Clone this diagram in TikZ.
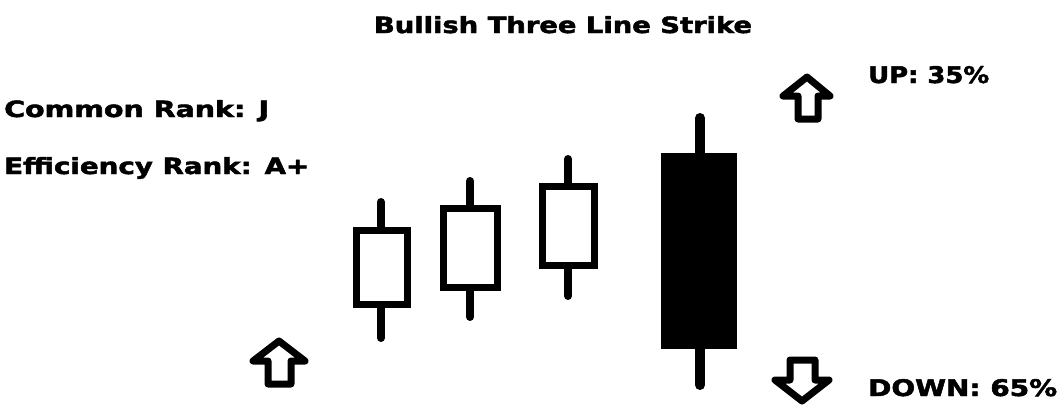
\documentclass[tikz,border=0pt]{standalone}
\usepackage{fontspec}
\setmainfont{DejaVu Sans}
\newfontfamily\heavyfont{DejaVu Sans Bold}[FakeBold=2]
\usepackage{graphicx}
\begin{document}
\begin{tikzpicture}[x=1pt,y=-1pt,
  lbl/.style={inner sep=0pt,anchor=base west,font=\heavyfont},
  hollow/.style={draw=black,line width=7pt,fill=white,inner sep=0pt},
  solid/.style={draw=none,fill=black,inner sep=0pt},
  wick/.style={line width=8pt,line cap=round},
  arrowshape/.style={line width=7pt,line join=round}]
\useasboundingbox (0,0) rectangle (1064,408);
% texts
\node[lbl,anchor=base] (title) at (563,33) {\resizebox{378pt}{17pt}{Bullish Three Line Strike}};
\node[lbl] (common) at (4,117) {\resizebox{265pt}{17pt}{Common Rank: J}};
\node[lbl] (eff) at (4,174) {\resizebox{305pt}{17pt}{Efficiency Rank: A+}};
\node[lbl] (up) at (868,83) {\resizebox{121pt}{17pt}{UP: 35\%}};
\node[lbl] (down) at (868,396) {\resizebox{189pt}{17pt}{DOWN: 65\%}};
% candle 1
\coordinate (w1t) at (381,202); \coordinate (w1b) at (381,338);
\draw[wick] (w1t) -- (w1b);
\node[hollow,minimum width=51pt,minimum height=74pt] (c1) at (382,267.5) {};
% candle 2
\coordinate (w2t) at (470,181); \coordinate (w2b) at (470,317);
\draw[wick] (w2t) -- (w2b);
\node[hollow,minimum width=54pt,minimum height=79pt] (c2) at (470.5,248) {};
% candle 3
\coordinate (w3t) at (568,159); \coordinate (w3b) at (568,296);
\draw[wick] (w3t) -- (w3b);
\node[hollow,minimum width=52pt,minimum height=79pt] (c3) at (568.5,226) {};
% candle 4
\coordinate (w4t) at (700,118); \coordinate (w4b) at (700,385);
\draw[wick,line width=10pt] (w4t) -- (w4b);
\node[solid,minimum width=76pt,minimum height=196pt] (c4) at (699,251) {};
% arrows
\draw[arrowshape] (279,341) -- (305,361) -- (291,361) -- (291,384) -- (268,384) -- (268,361) -- (253,361) -- cycle;
\draw[arrowshape] (807,77) -- (830,96) -- (818,96) -- (818,119) -- (798,119) -- (798,96) -- (783,96) -- cycle;
\draw[arrowshape] (802,401) -- (829,380) -- (815,380) -- (815,360) -- (790,360) -- (790,380) -- (775,380) -- cycle;
\end{tikzpicture}
\end{document}
